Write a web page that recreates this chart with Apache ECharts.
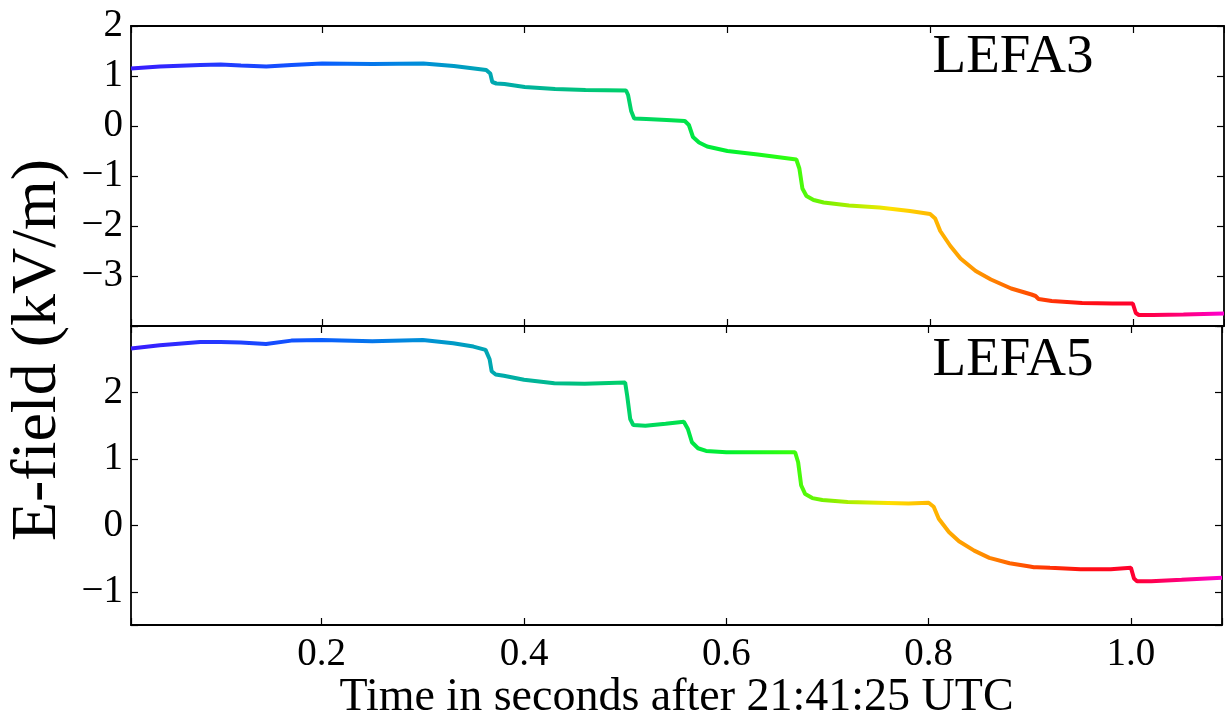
<!DOCTYPE html>
<html>
<head>
<meta charset="utf-8">
<script src="https://cdn.jsdelivr.net/npm/echarts@6/dist/echarts.min.js"></script>
<style>
html,body{margin:0;padding:0;background:#fff;}
#chart{width:1225px;height:723px;}
</style>
</head>
<body>
<div id="chart"></div>
<script>
// ---- data ----
const time = [0.0115,0.04,0.08,0.10,0.12,0.145,0.17,0.20,0.25,0.30,0.33,0.35,0.362,0.366,0.368,0.372,0.38,0.40,0.43,0.46,0.50,0.502,0.505,0.508,0.52,0.54,0.558,0.562,0.566,0.572,0.58,0.60,0.63,0.668,0.671,0.674,0.678,0.685,0.695,0.72,0.75,0.78,0.80,0.805,0.81,0.82,0.83,0.845,0.86,0.88,0.90,0.904,0.907,0.92,0.95,0.98,1.0,1.003,1.006,1.02,1.05,1.09];
const lefa3 = [1.15,1.19,1.22,1.23,1.21,1.19,1.22,1.25,1.24,1.25,1.20,1.15,1.12,1.05,0.88,0.85,0.84,0.78,0.74,0.72,0.71,0.62,0.30,0.15,0.14,0.12,0.10,0.02,-0.22,-0.33,-0.41,-0.50,-0.57,-0.67,-0.85,-1.25,-1.40,-1.48,-1.53,-1.59,-1.63,-1.70,-1.76,-1.85,-2.10,-2.40,-2.65,-2.90,-3.07,-3.25,-3.37,-3.40,-3.46,-3.50,-3.54,-3.55,-3.55,-3.74,-3.78,-3.78,-3.77,-3.75];
const lefa5 = [2.66,2.71,2.76,2.76,2.75,2.73,2.78,2.79,2.77,2.79,2.74,2.69,2.64,2.50,2.32,2.27,2.25,2.19,2.14,2.13,2.15,1.95,1.60,1.51,1.50,1.53,1.56,1.45,1.25,1.16,1.12,1.10,1.10,1.10,0.95,0.60,0.47,0.41,0.38,0.35,0.34,0.33,0.34,0.28,0.10,-0.10,-0.24,-0.38,-0.49,-0.57,-0.62,-0.63,-0.63,-0.64,-0.66,-0.66,-0.64,-0.80,-0.84,-0.84,-0.82,-0.79];
const xTicks = [0.2,0.4,0.6,0.8,1.0];
const topTicks = [2,1,0,-1,-2,-3];
const bottomTicks = [2,1,0,-1];
const panelLabels = ['LEFA3','LEFA5'];
const xTitle = 'Time in seconds after 21:41:25 UTC';
const yTitle = 'E-field (kV/m)';

const X_MIN = 0.0115, X_MAX = 1.09;
const FONT = '"Liberation Serif", "DejaVu Serif", serif';

const pairs = (ys) => time.map((t, i) => [t, ys[i]]);

// colour ramp along time
const rampT = [0.0115,0.2,0.3,0.37,0.45,0.52,0.6,0.66,0.70,0.74,0.76,0.80,0.85,0.90,0.95,1.0,1.05,1.09];
const rampC = ['#3a1aff','#0a5cff','#0090d8','#00a8b0','#00c080','#00d860','#00f030','#30ff10','#80f000','#d0ee00','#ffe000','#ffb800','#ff9000','#ff4800','#ff1010','#ff0030','#ff0080','#ff00d8'];
const gradient = () => ({
  type: 'linear', x: 0, y: 0, x2: 1, y2: 0,
  colorStops: rampT.map((t, i) => ({ offset: (t - X_MIN) / (X_MAX - X_MIN), color: rampC[i] }))
});

const fmtNum = (v) => (v < 0 ? '\u2212' : '') + Math.abs(v);
const onList = (list, v) => list.some(t => Math.abs(t - v) < 1e-6);

const tickStyle = { show: true, inside: true, length: 7, lineStyle: { color: '#000', width: 1.2 } };
const lineStyle = { show: true, onZero: false, lineStyle: { color: '#000', width: 1.8 } };

function xAxis(gridIndex, position, showLabels) {
  return {
    type: 'value', gridIndex, position, min: X_MIN, max: X_MAX,
    minInterval: 0.2, maxInterval: 0.2,
    axisLine: lineStyle, axisTick: tickStyle, splitLine: { show: false },
    axisLabel: {
      show: showLabels, margin: 10, fontFamily: FONT, fontSize: 39, color: '#000',
      formatter: (v) => onList(xTicks, v) ? v.toFixed(1) : ''
    },
    name: showLabels ? xTitle : '', nameLocation: 'middle', nameGap: 50,
    nameTextStyle: { fontFamily: FONT, fontSize: 46, color: '#000' }
  };
}
function yAxis(gridIndex, position, min, max, ticks, showLabels) {
  return {
    type: 'value', gridIndex, position, min, max,
    minInterval: 1, maxInterval: 1,
    axisLine: lineStyle, axisTick: tickStyle, splitLine: { show: false },
    axisLabel: {
      show: showLabels, margin: 8, fontFamily: FONT, fontSize: 39, color: '#000',
      showMinLabel: true, showMaxLabel: true, padding: [0, 0, 8, 0],
      formatter: (v) => onList(ticks, v) ? fmtNum(v) : ''
    }
  };
}

const option = {
  animation: false,
  backgroundColor: '#fff',
  grid: [
    { left: 131, top: 26, width: 1093, height: 300 },
    { left: 131, top: 326, width: 1093, height: 299 }
  ],
  xAxis: [
    xAxis(0, 'bottom', false), xAxis(0, 'top', false),
    xAxis(1, 'bottom', true), xAxis(1, 'top', false)
  ],
  yAxis: [
    yAxis(0, 'left', -4, 2, topTicks, true), yAxis(0, 'right', -4, 2, topTicks, false),
    yAxis(1, 'left', -1.5, 3, bottomTicks, true), yAxis(1, 'right', -1.5, 3, bottomTicks, false)
  ],
  series: [
    { name: panelLabels[0], type: 'line', xAxisIndex: 0, yAxisIndex: 0, data: pairs(lefa3),
      showSymbol: false, symbol: 'none', lineStyle: { width: 4, color: gradient() }, z: 1 },
    { name: panelLabels[1], type: 'line', xAxisIndex: 2, yAxisIndex: 2, data: pairs(lefa5),
      showSymbol: false, symbol: 'none', lineStyle: { width: 4, color: gradient() }, z: 1 }
  ],
  graphic: [
    { type: 'text', x: 1013, y: 58, style: { text: panelLabels[0], font: '55px ' + FONT, fill: '#000', align: 'center', verticalAlign: 'middle' } },
    { type: 'text', x: 1013, y: 361, style: { text: panelLabels[1], font: '55px ' + FONT, fill: '#000', align: 'center', verticalAlign: 'middle' } },
    { type: 'text', x: 38, y: 350, rotation: Math.PI / 2, style: { text: yTitle, font: '64px ' + FONT, fill: '#000', align: 'center', verticalAlign: 'middle' } }
  ]
};

const chart = echarts.init(document.getElementById('chart'), null, { renderer: 'canvas' });
chart.setOption(option);
</script>
</body>
</html>
